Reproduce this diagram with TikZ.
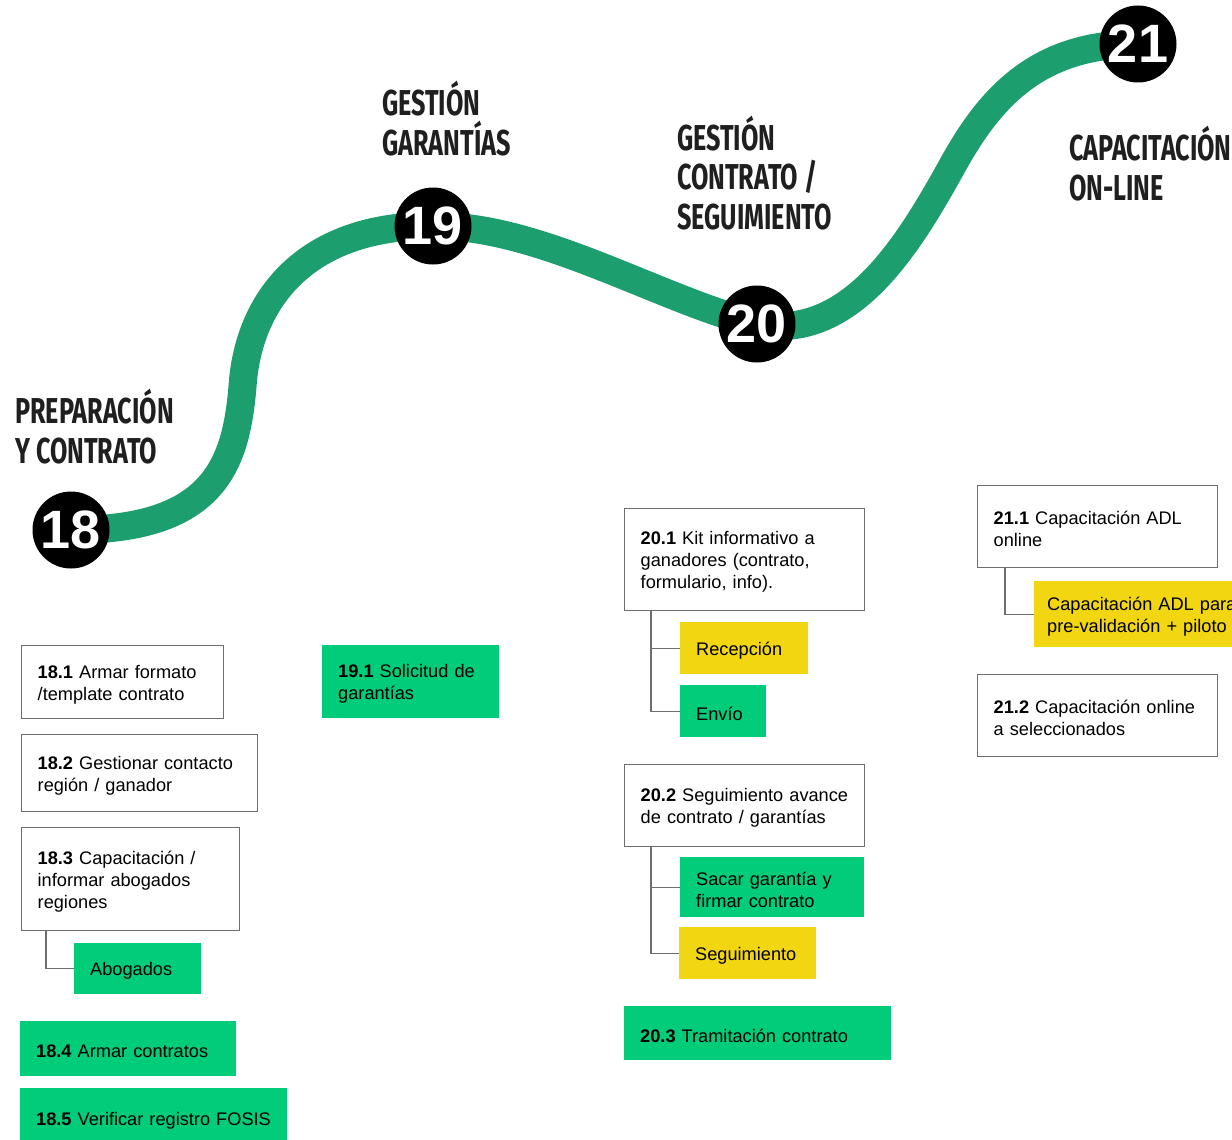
\documentclass[tikz,border=0pt]{standalone}
\usepackage{fontspec}
\setmainfont{Liberation Sans}
\newfontfamily\headfont{Fira Sans}[FakeStretch=0.70]
\usetikzlibrary{calc}
\definecolor{roadgreen}{RGB}{29,158,110}
\definecolor{boxgreen}{RGB}{0,204,122}
\definecolor{boxyellow}{RGB}{242,214,18}
\definecolor{headgray}{RGB}{31,31,31}
\definecolor{linegray}{RGB}{110,110,110}
\begin{document}
\begin{tikzpicture}[x=1pt,y=-1pt,
  task/.style={rectangle, anchor=north west, inner xsep=16pt, inner ysep=0pt,
    align=left, text=black, font=\fontsize{18.2}{22}\selectfont,
    execute at begin node=\rule{0pt}{18pt}},
  outlined/.style={task, draw=linegray, line width=1.4pt, fill=white},
  greenbox/.style={task, fill=boxgreen},
  yellowbox/.style={task, fill=boxyellow},
  milestone/.style={circle, fill=black, minimum size=77pt, inner sep=0pt,
    text=white, font=\bfseries\fontsize{54}{54}\selectfont},
  heading/.style={anchor=base west, align=left, inner sep=0pt, text=headgray,
    font=\headfont\bfseries\fontsize{36}{39.5}\selectfont},
  branch/.style={draw=linegray, line width=1.4pt},
  road/.style={draw=roadgreen, line width=28pt}]
\useasboundingbox (0,0) rectangle (1232,1140);
\clip (0,0) rectangle (1232,1140);

% road
\coordinate (c18) at (71,530);
\coordinate (c19) at (433,226);
\coordinate (c20) at (757,324);
\coordinate (c21) at (1138,44);
\draw[road] (c18) .. controls (215,530) and (237,465) .. (243,380)
  .. controls (252,290) and (315,225) .. (c19)
  .. controls (540,225) and (660,300) .. (c20)
  .. controls (850,342) and (908,245) .. (950,170)
  .. controls (988,100) and (1035,44) .. (c21);

\node[milestone] (m18) at (c18) {18};
\node[milestone] (m19) at (c19) {19};
\node[milestone] (m20) at (c20) {20};
\node[milestone] (m21) at (c21) {21};

% headings (anchored at the baseline of the last line)
\node[heading] (h18) at (15,463) {PREPARACIÓN\\Y CONTRATO};
\node[heading] (h19) at (382,155) {GESTIÓN\\GARANTÍAS};
\node[heading] (h20) at (677,229) {GESTIÓN\\CONTRATO /\\SEGUIMIENTO};
\node[heading] (h21) at (1069,200) {CAPACITACIÓN\\ON-LINE};

% column 18
\node[outlined, text width=170pt, minimum height=73pt] (b181) at (21,645)
  {\mbox{\textbf{18.1} Armar formato}\\\mbox{/template contrato}};
\node[outlined, text width=204pt, minimum height=77pt] (b182) at (21,734)
  {\mbox{\textbf{18.2} Gestionar contacto}\\\mbox{región / ganador}};
\node[outlined, text width=186pt, minimum height=103pt] (b183) at (21,827)
  {\mbox{\textbf{18.3} Capacitación /}\\\mbox{informar abogados}\\\mbox{regiones}};
\node[greenbox, text width=95pt, minimum height=51pt] (abog) at (74,943)
  {\mbox{Abogados}};
\node[greenbox, text width=184pt, minimum height=55pt] (b184) at (20,1021)
  {\mbox{\textbf{18.4} Armar contratos}};
\node[greenbox, text width=235pt, minimum height=60pt] (b185) at (20,1088)
  {\mbox{\textbf{18.5} Verificar registro FOSIS}};
\draw[branch] ([xshift=25pt]b183.south west) |- (abog.west);

% column 19
\node[greenbox, text width=145pt, minimum height=73pt] (b191) at (322,645)
  {\mbox{\textbf{19.1} Solicitud de}\\\mbox{garantías}};

% column 20
\node[outlined, text width=208pt, minimum height=102pt] (b201) at (624,508)
  {\mbox{\textbf{20.1} Kit informativo a}\\\mbox{ganadores (contrato,}\\\mbox{formulario, info).}};
\node[yellowbox, text width=96pt, minimum height=52pt] (recep) at (680,622)
  {\mbox{Recepción}};
\node[greenbox, text width=54pt, minimum height=52pt] (envio) at (680,685)
  {\mbox{Envío}};
\draw[branch] ([xshift=27pt]b201.south west) |- (recep.west);
\draw[branch] ([xshift=27pt]b201.south west) |- (envio.west);

\node[outlined, text width=208pt, minimum height=82pt] (b202) at (624,764)
  {\mbox{\textbf{20.2} Seguimiento avance}\\\mbox{de contrato / garantías}};
\node[greenbox, text width=152pt, minimum height=60pt] (sacar) at (680,857)
  {\mbox{Sacar garantía y}\\\mbox{firmar contrato}};
\node[yellowbox, text width=105pt, minimum height=52pt] (segui) at (679,927)
  {\mbox{Seguimiento}};
\draw[branch] ([xshift=27pt]b202.south west) |- (sacar.west);
\draw[branch] ([xshift=27pt]b202.south west) |- (segui.west);

\node[greenbox, text width=235pt, minimum height=54pt] (b203) at (624,1006)
  {\mbox{\textbf{20.3} Tramitación contrato}};

% column 21
\node[outlined, text width=208pt, minimum height=82pt] (b211) at (977,485)
  {\mbox{\textbf{21.1} Capacitación ADL}\\\mbox{online}};
\node[yellowbox, inner xsep=13pt, text width=204pt, minimum height=66pt] (capadl) at (1034,581)
  {\mbox{Capacitación ADL para}\\\mbox{pre-validación + piloto}};
\draw[branch] ([xshift=28pt]b211.south west) |- (capadl.west);
\node[outlined, text width=208pt, minimum height=82pt] (b212) at (977,674)
  {\mbox{\textbf{21.2} Capacitación online}\\\mbox{a seleccionados}};
\end{tikzpicture}
\end{document}
